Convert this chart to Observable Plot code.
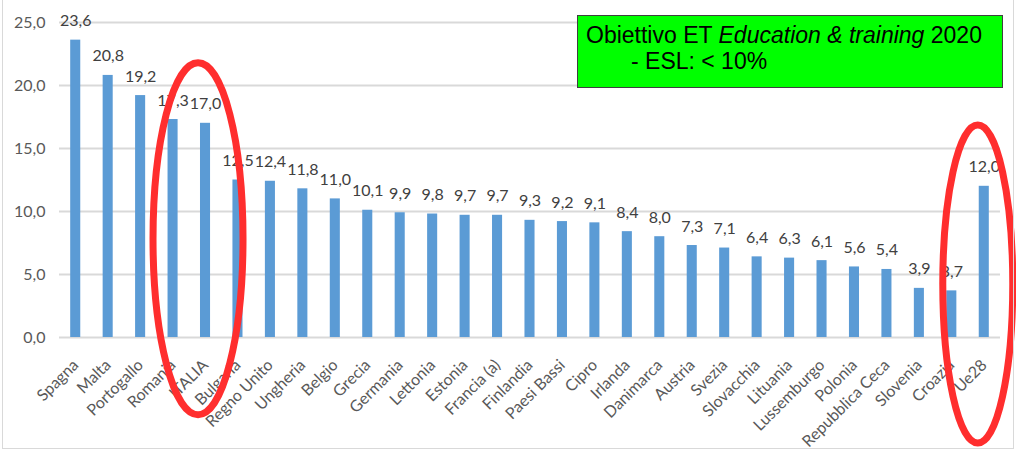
<!DOCTYPE html>
<html>
<head>
<meta charset="utf-8">
<script src="https://cdn.jsdelivr.net/npm/d3@7"></script>
<script src="https://cdn.jsdelivr.net/npm/@observablehq/plot@0.6"></script>
<style>
  html, body { margin: 0; padding: 0; background: #fff; }
  #wrap { position: relative; width: 1016px; height: 451px; overflow: hidden; }
  #frame { position: absolute; left: 2px; top: -2px; width: 1012px; height: 451px; border: 1px solid #d9d9d9; box-sizing: border-box; pointer-events: none; }
  #note { position: absolute; left: 577px; top: 15px; width: 426px; height: 73px; box-sizing: border-box;
          background: #00ff00; border: 1px solid #404040; font-family: "Liberation Sans", Arial, sans-serif;
          font-size: 23px; color: #000; line-height: 26px; padding: 6px 0 0 8px; white-space: nowrap; }
  #note .l2 { padding-left: 45px; }
</style>
</head>
<body>
<div id="wrap">
  <div id="chart"></div>
  <div id="note">Obiettivo ET <i>Education &amp; training</i> 2020<div class="l2">- ESL: &lt; 10%</div></div>
  <div id="frame"></div>
</div>
<script>
const countries = ["Spagna","Malta","Portogallo","Romania","ITALIA","Bulgaria","Regno Unito","Ungheria","Belgio","Grecia","Germania","Lettonia","Estonia","Francia (a)","Finlandia","Paesi Bassi","Cipro","Irlanda","Danimarca","Austria","Svezia","Slovacchia","Lituania","Lussemburgo","Polonia","Repubblica Ceca","Slovenia","Croazia","Ue28"];
const values = [23.6,20.8,19.2,17.3,17.0,12.5,12.4,11.8,11.0,10.1,9.9,9.8,9.7,9.7,9.3,9.2,9.1,8.4,8.0,7.3,7.1,6.4,6.3,6.1,5.6,5.4,3.9,3.7,12.0];
const yTicks = [0,5,10,15,20,25];
const highlighted = ["ITALIA","Ue28"];

const data = countries.map((c, i) => ({country: c, value: values[i]}));
const fmt = d => d.toFixed(1).replace(".", ",");

const plot = Plot.plot({
  width: 1016,
  height: 451,
  marginLeft: 59,
  marginRight: 16,
  marginTop: 22,
  marginBottom: 114,
  style: {fontFamily: "Lato, sans-serif", fontSize: "16px", color: "#595959", background: "#fff"},
  x: {domain: countries, paddingInner: 0.69, paddingOuter: 0.345, round: false, label: null},
  y: {domain: [0, 25], label: null},
  marks: [
    Plot.gridY(yTicks, {stroke: "#d9d9d9", strokeWidth: 2, strokeOpacity: 1}),
    Plot.axisY(yTicks, {tickFormat: fmt, tickSize: 0, tickPadding: 14, label: null, fontSize: 16}),
    Plot.axisX({tickRotate: -45, tickSize: 0, tickPadding: 25, label: null, fontSize: 16}),
    Plot.barY(data, {x: "country", y: "value", fill: "#5b9bd5"}),
    Plot.text(data, {x: "country", y: "value", text: d => fmt(d.value), dy: -14, lineAnchor: "bottom", fill: "#404040", fontSize: 16})
  ]
});
document.getElementById("chart").appendChild(plot);

// red hand-drawn-style ellipses around highlighted bars
const xs = plot.scale("x"), ys = plot.scale("y");
const bw = xs.bandwidth;
const xOf = c => xs.apply(c) + bw / 2;
const svg = d3.select(plot);
const ell = [
  {c: "ITALIA", dx: -7, cyVal: 7.8, rx: 45, ry: 176},
  {c: "Ue28", dx: -6, cyVal: 4.2, rx: 35, ry: 159}
];
ell.forEach(e => {
  svg.append("ellipse")
    .attr("cx", xOf(e.c) + e.dx)
    .attr("cy", ys.apply(e.cyVal))
    .attr("rx", e.rx)
    .attr("ry", e.ry)
    .attr("fill", "none")
    .attr("stroke", "#ff2e2e")
    .attr("stroke-width", 7);
});
</script>
</body>
</html>
